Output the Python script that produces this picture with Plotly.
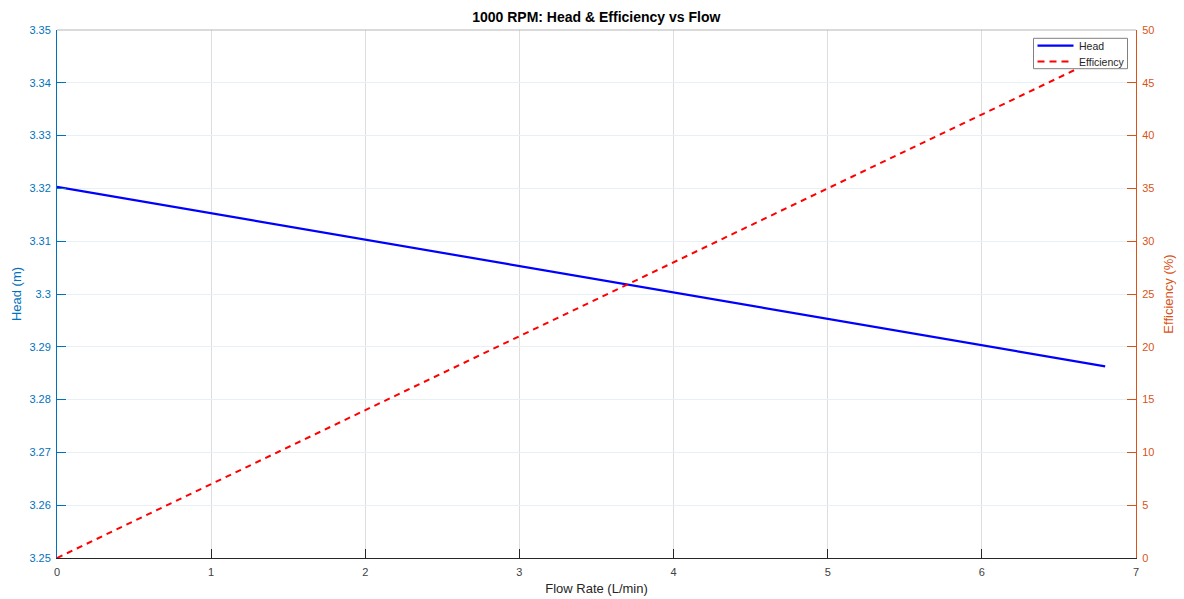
import plotly.graph_objects as go

flow = [0, 1, 2, 3, 4, 5, 6, 6.8]
head = [3.3203, 3.3153, 3.3103, 3.3053, 3.3003, 3.2953, 3.2903, 3.2863]
efficiency = [0, 7, 14, 21, 28, 35, 42, 47.6]

x_ticks = [0, 1, 2, 3, 4, 5, 6, 7]
head_ticks = [3.25, 3.26, 3.27, 3.28, 3.29, 3.30, 3.31, 3.32, 3.33, 3.34, 3.35]
head_ticktext = ["3.25", "3.26", "3.27", "3.28", "3.29", "3.3", "3.31", "3.32", "3.33", "3.34", "3.35"]
eff_ticks = [0, 5, 10, 15, 20, 25, 30, 35, 40, 45, 50]
legend_names = ["Head", "Efficiency"]

BLUE_AX = "#0072BD"
ORANGE_AX = "#D95319"
HEAD_COLOR = "#0000FF"
EFF_COLOR = "#FF0000"
FONT = "Liberation Sans, Arial, sans-serif"

W, H = 1184, 599
ML, MR, MT, MB = 57, 48, 30, 41
PW, PH = W - ML - MR, H - MT - MB


def px(xp):
    return (xp - ML) / PW


def py(yp):
    return (H - MB - yp) / PH


fig = go.Figure()
fig.add_trace(go.Scatter(x=flow, y=head, mode="lines", name=legend_names[0],
                         line=dict(color=HEAD_COLOR, width=2.2), yaxis="y", showlegend=False))
fig.add_trace(go.Scatter(x=flow, y=efficiency, mode="lines", name=legend_names[1],
                         line=dict(color=EFF_COLOR, width=2, dash="6px,5px"), yaxis="y2",
                         showlegend=False))

# manual MATLAB-style legend box
shapes = [
    dict(type="line", xref="paper", yref="paper", x0=0, x1=1, y0=1, y1=1,
         line=dict(color="#b5b5b5", width=1)),
    dict(type="rect", xref="paper", yref="paper", x0=px(1033.5), x1=px(1127.5),
         y0=py(68.7), y1=py(38.3), fillcolor="white", line=dict(color="#808080", width=1)),
    dict(type="line", xref="paper", yref="paper", x0=px(1037.5), x1=px(1073.5),
         y0=py(45.7), y1=py(45.7), line=dict(color=HEAD_COLOR, width=2.2)),
    dict(type="line", xref="paper", yref="paper", x0=px(1037.5), x1=px(1073.5),
         y0=py(61.5), y1=py(61.5), line=dict(color=EFF_COLOR, width=2, dash="7px,5px")),
]
annotations = [
    dict(xref="paper", yref="paper", x=px(1076.5), y=py(45.7), text=legend_names[0],
         showarrow=False, xanchor="left", yanchor="middle",
         font=dict(size=10.5, color="#262626", family=FONT)),
    dict(xref="paper", yref="paper", x=px(1076.5), y=py(61.5), text=legend_names[1],
         showarrow=False, xanchor="left", yanchor="middle",
         font=dict(size=10.5, color="#262626", family=FONT)),
]

fig.update_layout(
    width=W, height=H,
    margin=dict(l=ML, r=MR, t=MT, b=MB, autoexpand=False),
    paper_bgcolor="white", plot_bgcolor="white",
    font=dict(family=FONT, size=11, color="#404040"),
    title=dict(text="<b>1000 RPM: Head &amp; Efficiency vs Flow</b>", x=0.5036, xanchor="center",
               y=0.972, yanchor="middle", font=dict(size=14, color="#000000", family=FONT)),
    showlegend=False,
    xaxis=dict(range=[0, 7], tickvals=x_ticks, ticks="inside", ticklen=9, tickcolor="#262626",
               showline=True, linecolor="#262626", linewidth=1, automargin=False,
               showgrid=True, gridcolor="#dedede", gridwidth=1, zeroline=False,
               tickfont=dict(size=11, color="#404040"), ticklabelstandoff=4,
               title=dict(text="Flow Rate (L/min)", font=dict(size=13, color="#262626"), standoff=6)),
    yaxis=dict(range=[3.25, 3.35], tickvals=head_ticks, ticktext=head_ticktext,
               ticks="inside", ticklen=9, tickcolor=BLUE_AX, automargin=False,
               showline=True, linecolor=BLUE_AX, linewidth=1,
               showgrid=True, gridcolor="#e9f0f5", gridwidth=1, zeroline=False,
               tickfont=dict(size=11, color=BLUE_AX), ticklabelstandoff=3,
               title=dict(text="Head (m)", font=dict(size=13, color=BLUE_AX), standoff=4)),
    yaxis2=dict(range=[0, 50], tickvals=eff_ticks, overlaying="y", side="right",
                ticks="inside", ticklen=9, tickcolor=ORANGE_AX, automargin=False,
                showline=True, linecolor=ORANGE_AX, linewidth=1,
                showgrid=False, zeroline=False,
                tickfont=dict(size=11, color=ORANGE_AX), ticklabelstandoff=3,
                title=dict(text="Efficiency (%)", font=dict(size=13, color=ORANGE_AX), standoff=10)),
    shapes=shapes,
    annotations=annotations,
)

fig.write_html("out.html")
